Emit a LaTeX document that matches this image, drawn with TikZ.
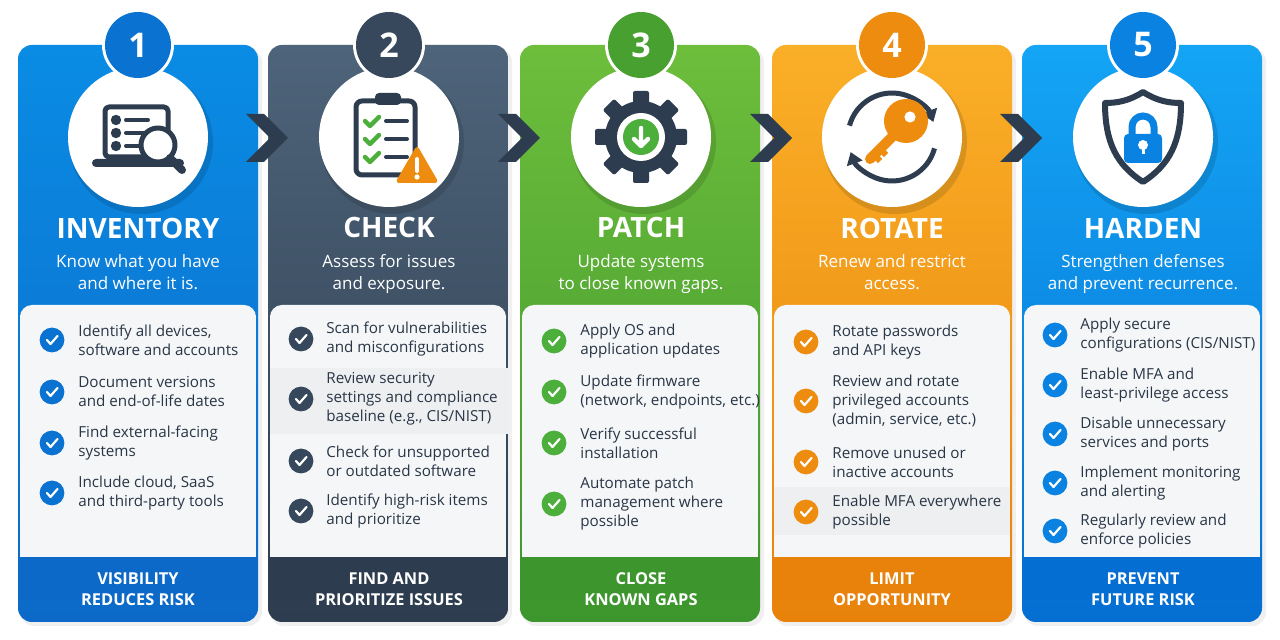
\documentclass[tikz,border=0pt]{standalone}
\usepackage{fontspec}
\setmainfont{Open Sans}
\usetikzlibrary{shapes.geometric,arrows.meta}
\definecolor{cA}{RGB}{10,115,210}\definecolor{cAt}{RGB}{10,140,228}\definecolor{cAb}{RGB}{12,105,200}
\definecolor{cB}{RGB}{55,72,92}\definecolor{cBt}{RGB}{78,100,122}\definecolor{cBb}{RGB}{45,60,78}
\definecolor{cC}{RGB}{72,160,48}\definecolor{cCt}{RGB}{110,190,60}\definecolor{cCb}{RGB}{60,150,45}
\definecolor{cD}{RGB}{238,140,15}\definecolor{cDt}{RGB}{250,175,40}\definecolor{cDb}{RGB}{232,130,10}
\definecolor{cE}{RGB}{10,130,225}\definecolor{cEt}{RGB}{20,165,245}\definecolor{cEb}{RGB}{5,110,210}
\definecolor{ink}{RGB}{45,60,78}\definecolor{panel}{RGB}{244,246,248}\definecolor{chk}{RGB}{76,175,60}
\tikzset{
 title/.style={text=white,font=\bfseries\fontsize{14}{16}\selectfont},
 sub/.style={text=white,font=\fontsize{8.5}{11}\selectfont,align=center,text depth=0pt},
 item/.style={anchor=west,text=ink!90!black,font=\fontsize{7.6}{9.5}\selectfont,align=left,inner sep=0},
 foot/.style={text=white,font=\bfseries\fontsize{8.2}{10.5}\selectfont,align=center},
 num/.style={text=white,font=\bfseries\fontsize{17}{17}\selectfont},
 ic/.style={draw=ink,line width=2.5pt,line cap=round,line join=round},
}
\newcommand{\chkmark}[3]{% x y color
 \fill[#3] (#1,#2) circle (6.2pt);
 \draw[white,line width=1.1pt,line cap=round,line join=round] (#1-5,#2) -- (#1-1.5,#2+4) -- (#1+5.5,#2-4);}
\begin{document}
\begin{tikzpicture}[x=0.5pt,y=-0.5pt]
\useasboundingbox (0,0) rectangle (1280,640);
\fill[white] (0,0) rectangle (1280,640);
% cards
\foreach \L/\c in {18/A,268/B,520/C,772/D,1022/E}{
 \fill[black,opacity=0.06] (\L+2,48) [rounded corners=7pt] rectangle (\L+244,626);
 \shade[top color=c\c t,bottom color=c\c b,rounded corners=7pt] (\L,45) rectangle (\L+240,622);
 \fill[panel,rounded corners=6pt] (\L+2,305) rectangle (\L+238,330);
 \fill[panel] (\L+2,315) rectangle (\L+238,557);
 \fill[c\c b] (\L,557) rectangle (\L+240,600);
}
\foreach \cx/\c/\n in {138/A/1,389/B/2,641/C/3,892/D/4,1143/E/5}{
 \fill[black,opacity=0.12] (\cx+3,142) circle (36pt);
 \fill[white] (\cx,137) circle (35pt);
 \fill[white] (\cx,45) circle (18pt);
 \fill[c\c] (\cx,45) circle (16.5pt);
 \node[num] (n\n) at (\cx,45) {\n};
}
% chevrons
\foreach \x/\k in {266/1,518/2,770/3,1020/4}{
 \fill[ink] (\x-20,114) -- (\x-2,114) -- (\x+22,138) -- (\x-2,162) -- (\x-20,162) -- (\x+4,138) -- cycle;
}
% titles
\node[title] (t1) at (138,228) {INVENTORY};
\node[title] (t2) at (389,228) {CHECK};
\node[title] (t3) at (641,228) {PATCH};
\node[title] (t4) at (892,228) {ROTATE};
\node[title] (t5) at (1143,228) {HARDEN};
\node[sub] (s1) at (138,272) {Know what you have\\and where it is.};
\node[sub] (s2) at (389,272) {Assess for issues\\and exposure.};
\node[sub] (s3) at (641,272) {Update systems\\to close known gaps.};
\node[sub] (s4) at (892,272) {Renew and restrict\\access.};
\node[sub] (s5) at (1143,272) {Strengthen defenses\\and prevent recurrence.};
% footers
\node[foot] (f1) at (138,589) {VISIBILITY\\REDUCES RISK};
\node[foot] (f2) at (389,589) {FIND AND\\PRIORITIZE ISSUES};
\node[foot] (f3) at (641,589) {CLOSE\\KNOWN GAPS};
\node[foot] (f4) at (892,589) {LIMIT\\OPPORTUNITY};
\node[foot] (f5) at (1143,589) {PREVENT\\FUTURE RISK};
% items
\foreach \y/\t in {340/{Identify all devices,\\software and accounts},392/{Document versions\\and end-of-life dates},443/{Find external-facing\\systems},493/{Include cloud, SaaS\\and third-party tools}}{
 \chkmark{52}{\y}{cA} \node[item] at (78,\y) {\t};}
\fill[ink!8] (270,368) rectangle (508,434);
\foreach \y/\t in {339/{Scan for vulnerabilities\\and misconfigurations},399/{Review security\\settings and compliance\\baseline (e.g., CIS/NIST)},461/{Check for unsupported\\or outdated software},511/{Identify high-risk items\\and prioritize}}{
 \chkmark{301}{\y}{cB} \node[item] at (326,\y) {\t};}
\foreach \y/\t in {341/{Apply OS and\\application updates},392/{Update firmware\\(network, endpoints, etc.)},443/{Verify successful\\installation},504/{Automate patch\\management where\\possible}}{
 \chkmark{554}{\y}{chk} \node[item] at (580,\y) {\t};}
\fill[ink!8] (774,487) rectangle (1010,535);
\foreach \y/\t in {342/{Rotate passwords\\and API keys},401/{Review and rotate\\privileged accounts\\(admin, service, etc.)},462/{Remove unused or\\inactive accounts},512/{Enable MFA everywhere\\possible}}{
 \chkmark{806}{\y}{cD} \node[item] at (832,\y) {\t};}
\foreach \y/\t in {335/{Apply secure\\configurations (CIS/NIST)},385/{Enable MFA and\\least-privilege access},434/{Disable unnecessary\\services and ports},483/{Implement monitoring\\and alerting},531/{Regularly review and\\enforce policies}}{
 \chkmark{1055}{\y}{cE} \node[item] at (1080,\y) {\t};}
% icon 1: laptop
\begin{scope}[shift={(138,137)}]
 \draw[ic,rounded corners=2pt] (-33,-30) rectangle (30,20);
 \fill[ink,rounded corners=2pt] (-46,22) rectangle (46,30);
 \foreach \yy in {-17,-4,9}{\fill[ink] (-22,\yy) circle (2.6pt); \draw[ic,line width=2pt] (-12,\yy) -- (10,\yy);}
 \draw[ic,fill=white] (20,8) circle (8.5pt);
 \draw[ic,line width=4pt] (32,21) -- (44,33);
\end{scope}
% icon 2: clipboard
\begin{scope}[shift={(389,137)}]
 \draw[ic,rounded corners=3pt] (-33,-36) rectangle (26,38);
 \fill[ink,rounded corners=2pt] (-14,-44) rectangle (12,-32);
 \foreach \yy in {-16,2,20}{
  \draw[chk,line width=2.2pt,line cap=round,line join=round] (-24,\yy) -- (-19,\yy+5) -- (-10,\yy-4);
  \draw[ic,line width=2pt] (-3,\yy) -- (18,\yy);}
 \fill[cD,rounded corners=2pt] (6,46) -- (28,8) -- (50,46) -- cycle;
 \draw[white,line width=2pt,line cap=round] (28,22) -- (28,34);
 \fill[white] (28,40) circle (1.3pt);
\end{scope}
% icon 3: gear
\begin{scope}[shift={(641,137)}]
 \foreach \a in {0,45,...,315}{\fill[ink,rotate=\a,rounded corners=1pt] (-8,-46) rectangle (8,-30);}
 \fill[ink] (0,0) circle (18pt);
 \fill[white] (0,0) circle (12pt);
 \fill[chk] (0,0) circle (9pt);
 \draw[white,line width=2.2pt,line cap=round,line join=round] (0,-9) -- (0,8) (-7,2) -- (0,9) -- (7,2);
\end{scope}
% icon 4: rotate key
\begin{scope}[shift={(892,137)}]
 \draw[draw=ink,line width=2.5pt,-{Triangle[length=6pt,width=8pt]}] (0,0) ++(165:22pt) arc (165:20:22pt);
 \draw[draw=ink,line width=2.5pt,-{Triangle[length=6pt,width=8pt]}] (0,0) ++(345:22pt) arc (345:200:22pt);
 \draw[cD,line width=5pt,line cap=round] (-22,22) -- (8,-8);
 \draw[cD,line width=3pt] (-12,12) -- (-6,18) (-18,18) -- (-12,24);
 \fill[cD] (14,-16) circle (11pt);
 \fill[white] (18,-20) circle (2.8pt);
\end{scope}
% icon 5: shield lock
\begin{scope}[shift={(1143,137)}]
 \draw[ic,line width=3pt] (0,-45) .. controls (14,-36) and (26,-34) .. (38,-34) .. controls (38,6) and (26,28) .. (0,45) .. controls (-26,28) and (-38,6) .. (-38,-34) .. controls (-26,-34) and (-14,-36) .. (0,-45) -- cycle;
 \draw[cE,line width=3.5pt] (-11,-2) -- (-11,-10) arc (180:0:5.5pt) -- (11,-2);
 \fill[cE,rounded corners=2pt] (-19,-3) rectangle (19,26);
 \fill[white] (0,8) circle (2.5pt);
 \fill[white] (-1.5,8) rectangle (1.5,17);
\end{scope}
\end{tikzpicture}
\end{document}
